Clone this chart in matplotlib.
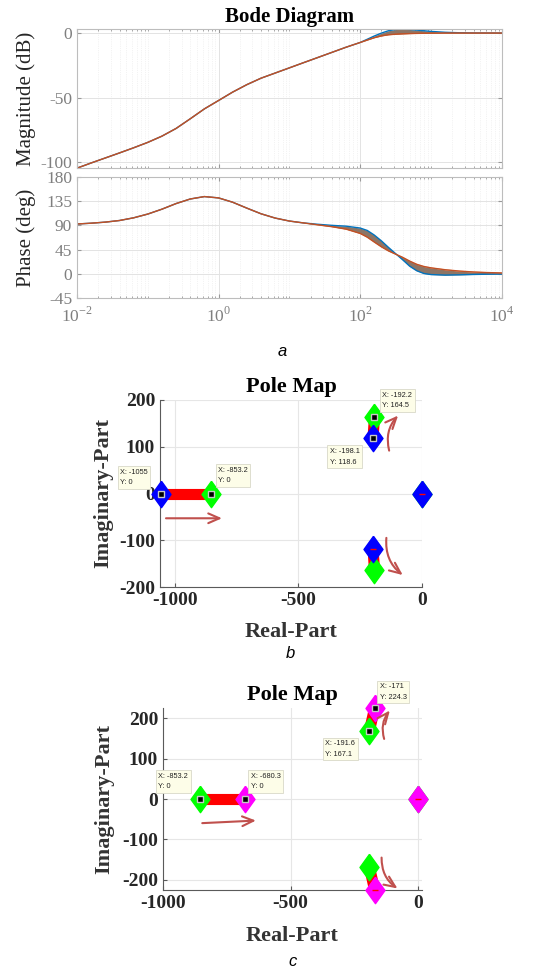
import numpy as np
import matplotlib
matplotlib.use("Agg")
import matplotlib.pyplot as plt

plt.rcParams["font.family"] = ["Liberation Serif", "DejaVu Serif"]
plt.rcParams["mathtext.fontset"] = "custom"
plt.rcParams["mathtext.rm"] = "Liberation Serif"
plt.rcParams["axes.unicode_minus"] = False

# ---- Bode data ----
w = [0.01, 0.0158, 0.0251, 0.0398, 0.0631, 0.1, 0.158, 0.251, 0.398, 0.631,
     1, 1.58, 2.51, 3.98, 6.31, 10, 15.8, 25.1, 39.8, 63.1,
     100, 126, 158, 200, 251, 316, 398, 501, 631, 794,
     1000, 1585, 2512, 3981, 6310, 10000]

mag_blue = [-104.8, -100.8, -96.9, -93.0, -89.0, -84.8, -80.0, -74.0, -66.5, -58.8,
            -52.3, -45.8, -40.0, -35.0, -31.0, -27.0, -23.0, -19.0, -15.0, -11.0,
            -7.3, -4.8, -2.3, 0.0, 1.8, 2.8, 3.1, 2.8, 2.3, 1.8,
            1.3, 0.6, 0.25, 0.1, 0.05, 0.0]
mag_orange = [-104.8, -100.8, -96.9, -93.0, -89.0, -84.8, -80.0, -74.0, -66.5, -58.8,
              -52.3, -45.8, -40.0, -35.0, -31.0, -27.0, -23.0, -19.0, -15.0, -11.0,
              -7.3, -5.4, -3.6, -2.2, -1.3, -0.9, -0.6, -0.4, -0.25, -0.15,
              -0.1, 0.0, 0.0, 0.0, 0.0, 0.0]

phase_blue = [92.5, 94, 96, 99, 104, 111, 120, 130.5, 139, 143.5,
              141, 133, 122, 111.5, 103.5, 98, 94.5, 92, 90, 88.5,
              85, 80.5, 72, 61, 49, 37.5, 26, 14, 5.5, 0.5,
              -1.5, -2.5, -2, -1.3, -0.8, -0.5]
phase_orange = [92.5, 94, 96, 99, 104, 111, 120, 130.5, 139, 143.5,
                141, 133, 122, 111.5, 103.5, 98, 94.5, 91, 87.5, 83,
                75, 68, 59, 50, 42.5, 36.5, 30.5, 23.5, 17.5, 13.5,
                11, 7.5, 5, 3.3, 2.2, 1.5]

# ---- Pole map b (green drawn first, blue on top) ----
b_green_re = [0, -853.2, -192.2, -192.2]
b_green_im = [0, 0, 164.5, -164.5]
b_blue_re = [0, -1055, -198.1, -198.1]
b_blue_im = [0, 0, 118.6, -118.6]
b_tips = [(-1055, 0), (-853.2, 0), (-198.1, 118.6), (-192.2, 164.5)]
b_tip_offsets = [(-41, 25), (7, 27), (-43, -10), (8, 25)]
b_arrows = [((-1047, -53), (-798, -53), 0.0),
            ((-130, 86), (-89, 171), -0.3),
            ((-143, -89), (-69, -178), 0.3)]

# ---- Pole map c (green first, magenta on top) ----
c_green_re = [0, -853.2, -191.6, -191.6]
c_green_im = [0, 0, 167.1, -167.1]
c_magenta_re = [0, -680.3, -171, -171]
c_magenta_im = [0, 0, 224.3, -224.3]
c_tips = [(-853.2, 0), (-680.3, 0), (-191.6, 167.1), (-171, 224.3)]
c_tip_offsets = [(-42, 26), (6, 26), (-44, -9), (5, 25)]
c_arrows = [((-857, -60), (-625, -53), 0.0),
            ((-130, 142), (-104, 224), -0.3),
            ((-143, -138), (-72, -225), 0.3)]

fig = plt.figure(figsize=(5.46, 9.69), dpi=100)

# ---------------- Bode ----------------
ax_m = fig.add_axes([0.141, 0.8266, 0.778, 0.1434])
ax_p = fig.add_axes([0.141, 0.6925, 0.778, 0.1249], sharex=ax_m)

band = "#8c7566"
for ax, up, lo in [(ax_m, mag_blue, mag_orange), (ax_p, phase_blue, phase_orange)]:
    ax.fill_between(w, up, lo, color=band, lw=0)
    ax.plot(w, up, color="#0072BD", lw=1.0)
    ax.plot(w, lo, color="#D95319", lw=1.0)
    ax.plot(w, lo, color="#a0503a", lw=0.6, alpha=0.6)
    ax.set_xscale("log")
    ax.set_xlim(1e-2, 1e4)
    ax.grid(True, which="major", color="#e3e3e3", lw=0.7)
    ax.grid(True, which="minor", color="#e8e8e8", lw=0.5, ls=":")
    ax.tick_params(which="both", direction="in", top=True, right=True,
                   colors="#9a9a9a", labelcolor="#7f7f7f", labelsize=12.5)
    ax.tick_params(which="major", length=3)
    ax.tick_params(which="minor", length=1.5)
    for s in ax.spines.values():
        s.set_color("#bdbdbd")
    ax.set_axisbelow(True)

ax_m.set_ylim(-104.7, 3.1)
ax_m.set_yticks([-100, -50, 0])
ax_m.tick_params(labelbottom=False)
ax_m.set_ylabel("Magnitude (dB)", fontsize=15, color="#262626")
ax_m.yaxis.set_label_coords(-0.097, 0.5)
ax_m.set_title("Bode Diagram", fontsize=15, fontweight="bold", pad=5)

ax_p.set_ylim(-45, 180)
ax_p.set_yticks([-45, 0, 45, 90, 135, 180])
ax_p.set_xticks([1e-2, 1, 1e2, 1e4])
ax_p.set_xticklabels([r"$10^{-2}$", r"$10^{0}$", r"$10^{2}$", r"$10^{4}$"])
ax_p.xaxis.set_minor_locator(matplotlib.ticker.LogLocator(base=10, subs=np.arange(1, 10), numticks=20))
ax_p.xaxis.set_minor_formatter(matplotlib.ticker.NullFormatter())
ax_p.tick_params(axis="x", pad=6)
ax_p.set_ylabel("Phase (deg)", fontsize=15, color="#262626")
ax_p.yaxis.set_label_coords(-0.097, 0.5)

fig.text(282 / 546, 1 - 352 / 969, "a", fontsize=12, style="italic",
         family="Liberation Sans", ha="center", va="center")

# ---------------- Pole maps ----------------
diamond = [(0, 1), (0.72, 0), (0, -1), (-0.72, 0), (0, 1)]


def pole_map(ax, u_re, u_im, o_re, o_im, u_col, o_col, tips, offs, arrows,
             xlim, ylim, ylab_x, xlab_y):
    # red locus bands between the two pole sets
    for i in range(1, len(u_re)):
        ax.plot([u_re[i], o_re[i]], [u_im[i], o_im[i]], color="red", lw=8,
                solid_capstyle="butt", zorder=3, clip_on=False)
    ax.plot(u_re, u_im, ls="none", marker=diamond, ms=19, color=u_col,
            zorder=4, clip_on=False)
    ax.plot(o_re, o_im, ls="none", marker=diamond, ms=19, color=o_col,
            zorder=5, clip_on=False)
    ax.plot(o_re, o_im, ls="none", marker="_", ms=4, color="red", mew=1,
            zorder=6, clip_on=False)
    for (x, y), (dx, dy) in zip(tips, offs):
        ax.plot(x, y, ls="none", marker="s", ms=5, mfc="black", mec="#c8c8c8",
                mew=1, zorder=7, clip_on=False)
        ax.annotate(f"X: {x:g}\nY: {y:g}", xy=(x, y), xytext=(dx, dy),
                    textcoords="offset pixels", ha="left", va="top",
                    fontsize=5.3, family="Liberation Sans", color="#222222",
                    linespacing=1.7, zorder=8, annotation_clip=False,
                    bbox=dict(boxstyle="square,pad=0.35", fc="#fdfde8",
                              ec="#d8d8c8", lw=0.6))
    for (x0, y0), (x1, y1), rad in arrows:
        ax.annotate("", xy=(x1, y1), xytext=(x0, y0), annotation_clip=False,
                    arrowprops=dict(arrowstyle="->,head_length=0.8,head_width=0.35",
                                    color="#c0504d", lw=1.5,
                                    connectionstyle=f"arc3,rad={rad}"),
                    zorder=6)
    ax.set_xlim(*xlim)
    ax.set_ylim(*ylim)
    ax.set_xticks([-1000, -500, 0])
    ax.set_yticks([-200, -100, 0, 100, 200])
    ax.grid(True, color="#e6e6e6", lw=0.8)
    ax.set_axisbelow(True)
    for side in ["top", "right"]:
        ax.spines[side].set_visible(False)
    for side in ["left", "bottom"]:
        ax.spines[side].set_color("#5a5a5a")
        ax.spines[side].set_linewidth(0.8)
    ax.tick_params(direction="in", length=3, colors="#5a5a5a",
                   labelcolor="#262626", labelsize=14)
    for lab in ax.get_xticklabels() + ax.get_yticklabels():
        lab.set_fontweight("bold")
    ax.set_title("Pole Map", fontsize=16, fontweight="bold", pad=6)
    ax.set_xlabel("Real-Part", fontsize=16, fontweight="bold", color="#333333")
    ax.set_ylabel("Imaginary-Part", fontsize=16, fontweight="bold", color="#333333")
    ax.yaxis.set_label_coords(ylab_x, 0.5)
    ax.xaxis.set_label_coords(0.5, xlab_y)


ax_b = fig.add_axes([160 / 546, 1 - 587 / 969, 262 / 546, 187 / 969])
pole_map(ax_b, b_green_re, b_green_im, b_blue_re, b_blue_im, "#00ff00", "#0000ff",
         b_tips, b_tip_offsets, b_arrows, (-1060, 0), (-200, 200), -0.179, -0.187)

ax_c = fig.add_axes([163 / 546, 1 - 890 / 969, 259 / 546, 182 / 969])
pole_map(ax_c, c_green_re, c_green_im, c_magenta_re, c_magenta_im, "#00ff00", "#ff00ff",
         c_tips, c_tip_offsets, c_arrows, (-1000, 15), (-225, 225), -0.189, -0.198)

fig.text(290 / 546, 1 - 654 / 969, "b", fontsize=12, style="italic",
         family="Liberation Sans", ha="center", va="center")
fig.text(293 / 546, 1 - 962 / 969, "c", fontsize=12, style="italic",
         family="Liberation Sans", ha="center", va="center")

fig.savefig("out.png", dpi=100)
